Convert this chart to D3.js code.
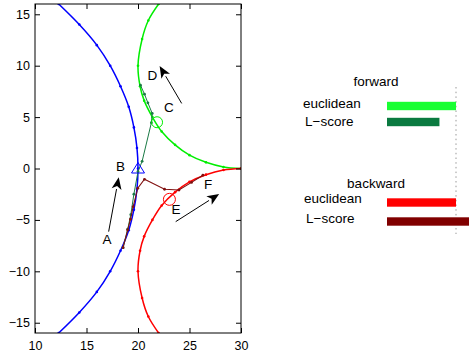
<!DOCTYPE html>
<html>
<head>
<meta charset="utf-8">
<script src="https://cdn.jsdelivr.net/npm/d3@7"></script>
<style>
  html, body { margin: 0; padding: 0; background: #fff; }
  svg text { font-family: "Liberation Sans", Arial, sans-serif; }
</style>
</head>
<body>
<svg id="chart" width="469" height="359"></svg>
<script>
// curve data
const blueX = [12.3, 14.3, 16.0, 17.3, 18.3, 19.1, 19.6, 19.9, 20.0, 19.9, 19.6, 19.1, 18.3, 17.3, 16.0, 14.3, 12.3];
const blueY = [16, 14, 12, 10, 8, 6, 4, 2, 0, -2, -4, -6, -8, -10, -12, -14, -16];

const greenX = [22.0, 21.0, 20.4, 20.0, 20.2, 20.6, 21.4, 22.3, 23.6, 25.0, 26.6, 28.3, 30.0];
const greenY = [16, 14.4, 12.6, 10, 8.0, 6.6, 5.0, 3.6, 2.3, 1.3, 0.6, 0.15, 0];

const redX = [22.0, 21.0, 20.4, 20.0, 20.2, 20.6, 21.4, 22.3, 23.6, 25.0, 26.6, 28.3, 30.0];
const redY = [-16, -14.4, -12.6, -10, -8.0, -6.6, -5.0, -3.6, -2.3, -1.3, -0.6, -0.15, 0];

const lscoreFwdX = [18.55, 19.0, 19.3, 19.6, 20.0, 20.4, 21.3, 21.38, 20.96, 20.63, 20.24];
const lscoreFwdY = [-7.7, -5.9, -4.5, -2.5, -0.3, 0.7, 4.45, 5.36, 6.39, 7.23, 8.1];

const lscoreBwdX = [18.55, 19.0, 19.27, 19.53, 19.98, 20.63, 22.58, 23.98, 25.2, 26.3];
const lscoreBwdY = [-7.7, -5.97, -4.93, -3.71, -1.92, -1.05, -2.02, -2.09, -1.35, -0.65];

// markers
const startMark = [20.0, 0.0];
const fwdMark = [21.85, 4.5];
const bwdMark = [23.05, -3.0];

// annotation arrows [x0, y0, x1, y1]
const arrows = [
  [17.15, -6.14, 18.13, -0.85],
  [24.24, 6.33, 22.1, 9.98],
  [23.66, -5.17, 27.88, -2.48]
];
const labelNames = ["A", "B", "C", "D", "E", "F"];
const labelX = [17.0, 18.3, 23.0, 21.4, 23.7, 26.8];
const labelY = [-6.9, 0.2, 5.9, 9.0, -4.0, -1.6];

const xTicks = [10, 15, 20, 25, 30];
const yTicks = [-15, -10, -5, 0, 5, 10, 15];

// legend bars
const groupNames = ["forward", "backward"];
const metricNames = ["euclidean", "L\u2212score"];
const fwdValues = [1.0, 0.76];
const bwdValues = [1.0, 1.2];

const svg = d3.select("#chart");
const plotL = 35, plotR = 241, plotT = 4, plotB = 333;

const x = d3.scaleLinear().domain([10, 30]).range([plotL, plotR]);
const y = d3.scaleLinear().domain([-16, 16]).range([plotB, plotT]);

svg.append("clipPath").attr("id", "plotclip")
  .append("rect").attr("x", plotL).attr("y", plotT)
  .attr("width", plotR - plotL).attr("height", plotB - plotT);

const plot = svg.append("g").attr("clip-path", "url(#plotclip)");

const fmt = d => d < 0 ? "\u2212" + Math.abs(d) : String(d);

// axes with inward ticks
svg.append("g").attr("transform", `translate(0,${plotB})`)
  .call(d3.axisBottom(x).tickValues(xTicks).tickSizeInner(-5).tickSizeOuter(0).tickPadding(8).tickFormat(fmt));
svg.append("g").attr("transform", `translate(0,${plotT})`)
  .call(d3.axisTop(x).tickValues(xTicks).tickSizeInner(-5).tickSizeOuter(0).tickFormat(""));
svg.append("g").attr("transform", `translate(${plotL},0)`)
  .call(d3.axisLeft(y).tickValues(yTicks).tickSizeInner(-5).tickSizeOuter(0).tickPadding(5).tickFormat(fmt));
svg.append("g").attr("transform", `translate(${plotR},0)`)
  .call(d3.axisRight(y).tickValues(yTicks).tickSizeInner(-5).tickSizeOuter(0).tickFormat(""));
svg.selectAll(".domain").remove();
svg.selectAll(".tick line").attr("stroke", "#000");
svg.selectAll(".tick text").attr("font-size", 12.5).attr("fill", "#000")
  .style("font-family", "'Liberation Sans', Arial, sans-serif");

svg.append("rect").attr("x", plotL).attr("y", plotT)
  .attr("width", plotR - plotL).attr("height", plotB - plotT)
  .attr("fill", "none").attr("stroke", "#000").attr("stroke-width", 1);

const line = d3.line().curve(d3.curveCatmullRom.alpha(0.5));
const straight = d3.line();

function drawCurve(xs, ys, color, width, path, dot) {
  const pts = xs.map((v, i) => [x(v), y(ys[i])]);
  plot.append("path").attr("d", path(pts)).attr("fill", "none")
    .attr("stroke", color).attr("stroke-width", width);
  plot.selectAll(null).data(pts).enter().append("circle")
    .attr("cx", d => d[0]).attr("cy", d => d[1]).attr("r", dot).attr("fill", color);
}

drawCurve(blueX, blueY, "#0000ff", 1.5, line, 1.3);
drawCurve(greenX, greenY, "#00ee00", 1.5, line, 1.3);
drawCurve(redX, redY, "#ff0000", 1.5, line, 1.3);
drawCurve(lscoreFwdX, lscoreFwdY, "#1a7a45", 1, straight, 1.4);
drawCurve(lscoreBwdX, lscoreBwdY, "#801010", 1.1, straight, 1.4);

// start / end markers
const tx = x(startMark[0]), ty = y(startMark[1]);
plot.append("path")
  .attr("d", `M${tx},${ty - 6}L${tx + 6.5},${ty + 4.5}L${tx - 6.5},${ty + 4.5}Z`)
  .attr("fill", "none").attr("stroke", "#0000ff").attr("stroke-width", 1);
plot.append("circle").attr("cx", x(fwdMark[0])).attr("cy", y(fwdMark[1])).attr("r", 5.5)
  .attr("fill", "none").attr("stroke", "#00ee00").attr("stroke-width", 1);
plot.append("circle").attr("cx", x(bwdMark[0])).attr("cy", y(bwdMark[1])).attr("r", 6)
  .attr("fill", "none").attr("stroke", "#ff0000").attr("stroke-width", 1);

// arrows
arrows.forEach(a => {
  const x0 = x(a[0]), y0 = y(a[1]), x1 = x(a[2]), y1 = y(a[3]);
  const ang = Math.atan2(y1 - y0, x1 - x0);
  const hl = 12, hw = 5;
  const bx = x1 - hl * Math.cos(ang), by = y1 - hl * Math.sin(ang);
  const nx = -Math.sin(ang), ny = Math.cos(ang);
  svg.append("line").attr("x1", x0).attr("y1", y0).attr("x2", bx).attr("y2", by)
    .attr("stroke", "#000").attr("stroke-width", 1);
  const ix = x1 - hl * 0.75 * Math.cos(ang), iy = y1 - hl * 0.75 * Math.sin(ang);
  svg.append("path")
    .attr("d", `M${x1},${y1}L${bx + nx * hw},${by + ny * hw}L${ix},${iy}L${bx - nx * hw},${by - ny * hw}Z`)
    .attr("fill", "#000");
});

svg.selectAll(null).data(labelNames).enter().append("text")
  .attr("x", (d, i) => x(labelX[i])).attr("y", (d, i) => y(labelY[i]))
  .attr("text-anchor", "middle").attr("dominant-baseline", "central")
  .attr("font-size", 13.5).text(d => d);

// legend panel
const barX = d3.scaleLinear().domain([0, 1]).range([387, 456]);
const barColors = [["#19ff33", "#0a7a40"], ["#ff0000", "#800000"]];
const groupVals = [fwdValues, bwdValues];
const headY = [81, 183];
const labelRowY = [[103, 121.5], [198, 218]];
const labelRowX = [[303, 305], [304, 306]];
const barRowY = [[106, 122], [202.5, 221.5]];

svg.append("line").attr("x1", 456).attr("x2", 456).attr("y1", 87).attr("y2", 234)
  .attr("stroke", "#999").attr("stroke-dasharray", "1.5,3.2");

groupNames.forEach((g, gi) => {
  svg.append("text").attr("x", 376).attr("y", headY[gi]).attr("text-anchor", "middle")
    .attr("dominant-baseline", "central").attr("font-size", 13.5).text(g);
  metricNames.forEach((m, mi) => {
    svg.append("text").attr("x", labelRowX[gi][mi])
      .attr("y", labelRowY[gi][mi]).attr("dominant-baseline", "central").attr("font-size", 13.5).text(m);
    svg.append("rect").attr("x", barX(0)).attr("y", barRowY[gi][mi] - 4.2)
      .attr("width", barX(groupVals[gi][mi]) - barX(0)).attr("height", 8.4)
      .attr("fill", barColors[gi][mi]);
  });
});
</script>
</body>
</html>
